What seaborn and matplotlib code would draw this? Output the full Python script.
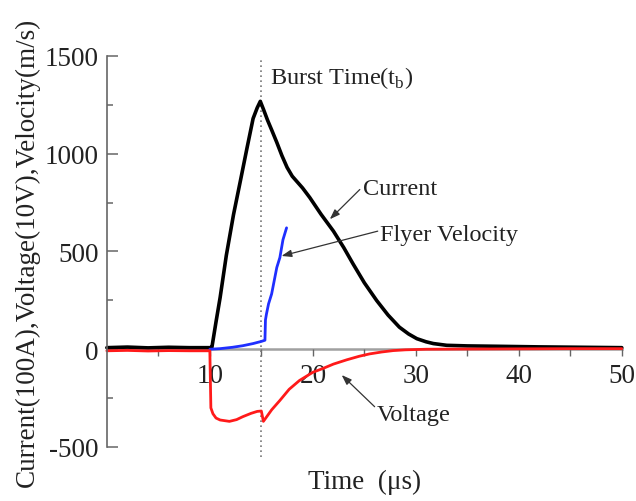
"""Current, voltage and flyer velocity traces around the burst time."""

import matplotlib
matplotlib.use("Agg")
import matplotlib.pyplot as plt
from matplotlib.ticker import MultipleLocator, FixedLocator
import pandas as pd
import seaborn as sns

# current (x100 A) trace
current_t = [0, 2, 4, 6, 8, 10.0, 10.2, 10.6, 11.0, 11.6, 12.3, 13.0, 13.6,
             14.2, 14.6, 14.9, 15.2, 15.6, 16.0, 16.5, 17.0, 17.5, 18.0, 19.0,
             19.7, 20.8, 22.0, 23.0, 23.9, 25.0, 26.2, 27.3, 28.4, 29.3, 30.1,
             31.0, 31.7, 33, 35, 38, 42, 46, 50]
current_v = [8, 11, 7, 10, 8, 8, 10, 140, 265, 480, 689, 870, 1027,
             1180, 1235, 1268, 1228, 1172, 1122, 1058, 990, 930, 885, 825,
             776, 690, 604, 520, 437, 340, 249, 175, 113, 78, 54,
             38, 29, 20, 17, 15, 12, 10, 8]

# flyer velocity (m/s)
vel_t = [10.0, 11.0, 12.2, 13.2, 14.2, 15.0, 15.35, 15.4, 15.5, 15.7, 16.0,
         16.5, 16.8, 17.1, 17.45]
vel_v = [0, 3, 10, 18, 29, 40, 46, 150, 181, 232, 283, 418, 469, 560, 621]

# voltage (x10 V)
volt_t = [0, 2, 4, 6, 8, 10.0, 10.1, 10.3, 10.6, 11.0, 11.9, 12.6, 13.2, 14.0,
          14.6, 15.0, 15.2, 16.0, 16.8, 17.7, 18.7, 20.0, 21.0, 22.0, 23.3,
          24.5, 25.5, 26.7, 27.8, 29.0, 31.0, 35, 40, 45, 50]
volt_v = [-8, -6, -9, -7, -8, -8, -300, -330, -352, -362, -369, -360, -345, -328,
          -318, -316, -369, -310, -262, -205, -160, -118, -98, -76, -54,
          -36, -24, -14, -7, -3, 0, 1, 2, 3, 3]

burst_time = 15.0

sns.set_theme(style="white")
plt.rcParams["font.family"] = ["Liberation Serif", "DejaVu Serif"]
plt.rcParams["mathtext.fontset"] = "custom"
plt.rcParams["mathtext.rm"] = "Liberation Serif"
plt.rcParams["axes.unicode_minus"] = False

fig = plt.figure(figsize=(6.36, 5.02), dpi=100)
ax = fig.add_axes([0.168, 0.1076, 0.8097, 0.7789])

traces = [
    (current_t, current_v, "black", 2.6),
    (vel_t, vel_v, "#1f2fff", 2.0),
    (volt_t, volt_v, "#ff1a1a", 2.0),
]
for t, v, color, lw in traces:
    df = pd.DataFrame({"t": t, "v": v})
    sns.lineplot(data=df, x="t", y="v", ax=ax, color=color, linewidth=lw,
                 estimator=None, sort=False, clip_on=False)

ax.plot([burst_time, burst_time], [-550, 1480], color="#777777",
        linestyle=(0, (1, 2)), linewidth=1.2, clip_on=False, zorder=1)

ax.set_xlim(0, 50)
ax.set_ylim(-500, 1500)

ax.spines["top"].set_visible(False)
ax.spines["right"].set_visible(False)
ax.spines["bottom"].set_position(("data", 0))
ax.spines["bottom"].set_color("#a0a0a0")
ax.spines["bottom"].set_linewidth(1.8)
ax.spines["bottom"].set_zorder(0)
ax.spines["left"].set_color("#666666")
ax.spines["left"].set_linewidth(1.2)

ax.xaxis.set_major_locator(FixedLocator([10, 20, 30, 40, 50]))
ax.xaxis.set_minor_locator(FixedLocator([5, 15, 25, 35, 45]))
ax.yaxis.set_major_locator(MultipleLocator(500))
ax.yaxis.set_minor_locator(MultipleLocator(250))

ax.tick_params(axis="x", which="both", direction="out", length=5, width=1,
               color="#666666", bottom=True, labelsize=19.5, pad=5,
               labelcolor="#222222")
ax.tick_params(axis="y", which="major", direction="in", length=8, width=1.1,
               color="#666666", left=True, labelsize=19.5, pad=6,
               labelcolor="#222222")
ax.tick_params(axis="y", which="minor", direction="in", length=4, width=1.1,
               color="#666666", left=True)

ax.set_xlabel("Time  (μs)", fontsize=19.5, color="#222222")
ax.xaxis.set_label_coords(0.5, -0.055)
ax.set_ylabel("Current(100A),Voltage(10V),Velocity(m/s)", fontsize=19.5,
              color="#222222")
ax.yaxis.set_label_coords(-0.13, 0.5)

ax.text(15.8, 1391, "Burst Time(t$_{\\mathrm{b}}$)", fontsize=17.5,
        ha="left", va="center", color="#222222")

arrow = dict(arrowstyle="-|>,head_length=0.5,head_width=0.18",
             color="#333333", lw=0.9, shrinkA=0, shrinkB=0)
labels = [
    ("Current", (24.85, 822), (24.56, 817), (21.65, 665)),
    ("Flyer Velocity", (26.5, 589), (26.3, 604), (16.96, 477)),
    ("Voltage", (26.2, -335), (26.0, -294), (22.8, -132)),
]
for text, text_pos, tail, head in labels:
    ax.text(text_pos[0], text_pos[1], text, fontsize=17.5, ha="left",
            va="center", color="#222222")
    ax.annotate("", xy=head, xytext=tail, arrowprops=arrow)

fig.savefig("out.png", dpi=100)
plt.close(fig)
